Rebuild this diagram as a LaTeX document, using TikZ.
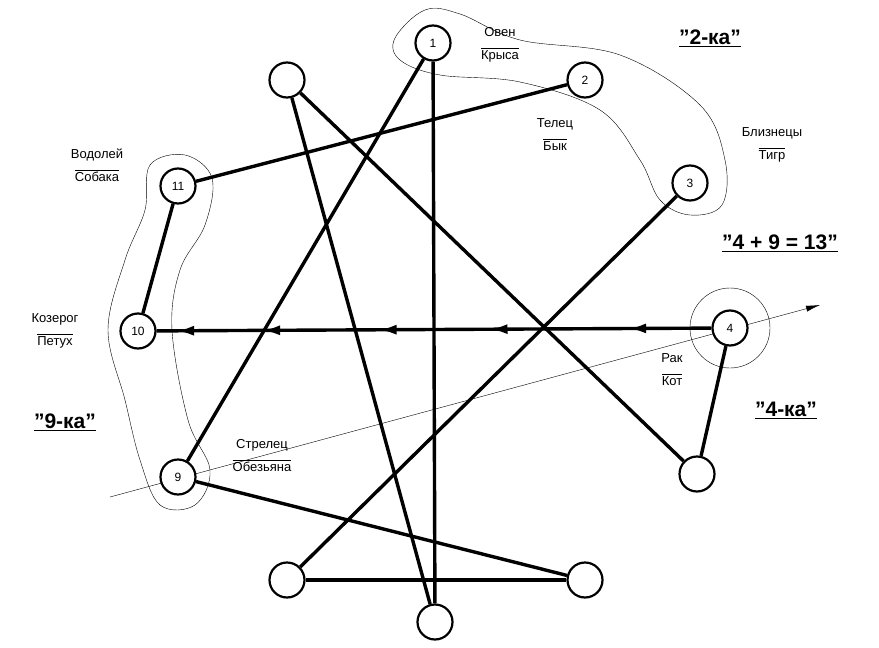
\documentclass[tikz,border=0pt]{standalone}
\usepackage{fontspec}
\usepackage{calc}
\setmainfont{Liberation Sans}
\usetikzlibrary{arrows.meta,decorations.markings}
\newcommand{\qq}{\char34\relax}
\begin{document}
\begin{tikzpicture}[x=1pt,y=-1pt,
  c/.style={circle,draw,line width=2.2pt,minimum size=35pt,inner sep=0pt,font=\fontsize{12}{14}\selectfont,fill=white},
  th/.style={line width=3.4pt},
  lab/.style={font=\fontsize{13}{15}\selectfont,align=center,inner sep=1pt},
  ttl/.style={font=\bfseries\fontsize{21}{24}\selectfont}]
\useasboundingbox (0,0) rectangle (879,648);
\draw[thin] plot[smooth cycle,tension=0.6] coordinates{(395,38)(425,10)(460,14)(520,40)(620,55)(700,105)(725,160)(722,205)(690,215)(660,200)(640,160)(600,110)(520,82)(440,75)(400,60)};
\draw[thin] plot[smooth cycle,tension=0.6] coordinates{(150,165)(185,155)(212,178)(205,225)(180,270)(172,330)(188,420)(210,470)(195,505)(160,505)(140,460)(125,400)(108,330)(125,260)(145,210)};
\coordinate (a1) at (110,497); \coordinate (a2) at (820,305);
\draw[thin,-{Latex[length=14pt,width=6pt]}] (a1) -- (a2);
\node[circle,draw,thin,minimum size=80pt] (r4) at (730,328) {};
\node[c] (n1) at (433,43) {1};
\node[c] (n2) at (585,80) {2};
\node[c] (n3) at (690,183) {3};
\node[c] (n4) at (730,328) {4};
\node[c] (n5) at (697,474) {};
\node[c] (n6) at (585,580) {};
\node[c] (n7) at (435,622) {};
\node[c] (n8) at (287,580) {};
\node[c] (n9) at (178,477) {9};
\node[c] (n10) at (138,331) {10};
\node[c] (n11) at (178,186) {11};
\node[c] (n12) at (287,80) {};
\begin{scope}[th]
\draw (n1) -- (n7); \draw (n1) -- (n9); \draw (n2) -- (n11); \draw (n3) -- (n8);
\draw (n12) -- (n7); \draw (n12) -- (n5); \draw (n4) -- (n5); \draw (n9) -- (n6);
\draw (n8) -- (n6); \draw (n11) -- (n10);
\draw[postaction={decorate},decoration={markings,
  mark=at position 0.15 with {\arrow{Latex[length=18pt,width=10pt]}},
  mark=at position 0.4 with {\arrow{Latex[length=18pt,width=10pt]}},
  mark=at position 0.6 with {\arrow{Latex[length=18pt,width=10pt]}},
  mark=at position 0.81 with {\arrow{Latex[length=18pt,width=10pt]}},
  mark=at position 0.965 with {\arrow{Latex[length=18pt,width=10pt]}}}] (n4) -- (n10);
\end{scope}
\foreach \n/\x/\y/\a/\b in {l1/500/45/Овен/Крыса, l2/555/135/Телец/Бык, l3/772/145/Близнецы/Тигр, l4/97/165/Водолей/Собака, l5/55/331/Козерог/Петух, l6/262/456/Стрелец/Обезьяна, l7/672/370/Рак/Кот}
  \node[lab] (\n) at (\x,\y) {\a\\[-3pt]\rule{\widthof{\b}}{0.5pt}\\[-4pt]\b};
\node[ttl] (t1) at (710,38) {\underline{\qq2-ка\qq}};
\node[ttl] (t2) at (780,243) {\underline{\qq4 + 9 = 13\qq}};
\node[ttl] (t3) at (786,410) {\underline{\qq4-ка\qq}};
\node[ttl] (t4) at (65,422) {\underline{\qq9-ка\qq}};
\end{tikzpicture}
\end{document}
